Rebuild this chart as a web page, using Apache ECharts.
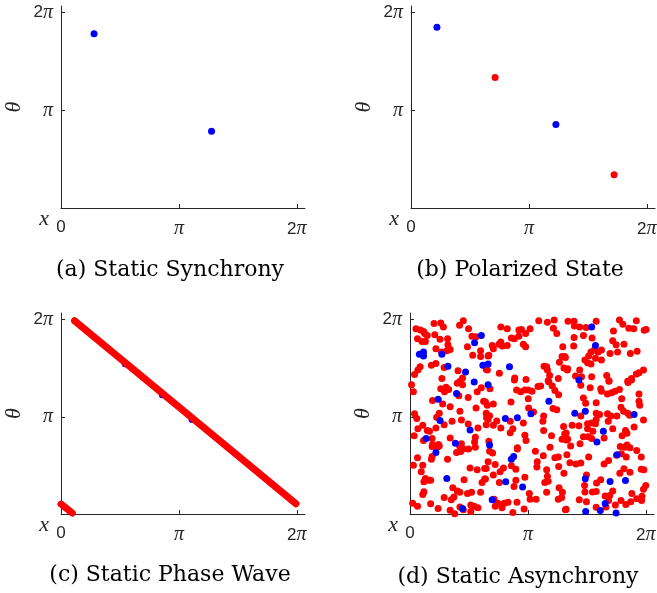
<!DOCTYPE html>
<html>
<head>
<meta charset="utf-8">
<script src="https://cdn.jsdelivr.net/npm/echarts@6/dist/echarts.min.js"></script>
<style>
  html, body { margin: 0; padding: 0; background: #fff; }
  #main { width: 657px; height: 593px; }
</style>
</head>
<body>
<div id="main"></div>
<script>
var PI = Math.PI;
// tick positions and labels (both axes)
var tickValues = [0, PI, 2 * PI];
var tickLabels = ['0', 'π', '2π'];
var captions = ['(a) Static Synchrony', '(b) Polarized State', '(c) Static Phase Wave', '(d) Static Asynchrony'];

// (a) static synchrony
var syncBlue = [[0.88, 5.61], [4.01, 2.47]];

// (b) polarized state
var polarBlue = [[0.69, 5.82], [3.86, 2.69]];
var polarRed = [[2.24, 4.20], [5.41, 1.07]];

// (c) static phase wave, two pieces of the wrapped line
var waveBlue = [[1.71, 4.86], [2.70, 3.86], [3.49, 3.06]];
var waveSeg1 = [[0, 0.32], [0.30, 0.03]];
var waveSeg2 = [[0.36, 6.25], [6.26, 0.33]];

// (d) static asynchrony
var asyncRed = [
  [0.16,5.99],[0.28,5.95],[0.36,5.90],[0.39,5.84],[0.46,5.77],[0.64,6.16],[0.82,6.18],[0.89,6.05],[1.32,6.10],[1.42,6.25],
  [1.56,5.99],[1.65,5.75],[1.76,5.73],[0.20,5.67],[0.32,5.58],[0.41,5.58],[0.66,5.80],[0.80,5.65],[1.00,5.67],[1.01,5.47],
  [0.69,5.34],[0.84,5.24],[0.98,5.28],[1.07,5.32],[1.53,5.41],[1.67,5.13],[1.88,5.28],[1.88,5.09],[2.08,5.11],[0.27,4.76],
  [0.21,4.66],[0.12,4.51],[0.57,4.81],[0.69,4.87],[0.91,4.74],[1.28,4.63],[1.40,4.40],[0.85,4.38],[2.03,4.68],
  [2.42,6.05],[2.59,5.99],[2.90,5.95],[2.97,5.97],[3.20,5.99],[3.08,5.84],[2.90,5.75],[2.70,5.69],[2.78,5.67],[2.42,5.56],
  [2.37,5.49],[2.46,5.43],[2.19,5.45],[2.22,5.34],[2.59,5.45],[3.02,5.49],[3.08,5.41],[2.10,5.13],[3.43,6.25],[3.66,6.20],
  [3.84,6.27],[3.82,6.01],[4.21,6.23],[3.91,5.84],[4.07,5.41],[4.05,5.09],[4.12,5.09],[3.98,4.91],[3.57,4.78],[3.64,4.76],
  [3.66,4.66],[4.10,4.72],[4.19,4.66],[3.72,4.48],[3.68,4.31],[3.95,4.38],[2.06,4.66],[2.38,4.55],[2.79,4.40],[3.09,4.35],
  [4.37,6.23],[4.38,6.08],[4.52,6.05],[4.69,6.03],[4.96,6.23],[5.58,6.27],[5.67,6.14],[6.03,6.25],[5.83,6.01],[5.96,5.99],
  [5.42,5.92],[6.24,5.94],[6.29,5.97],[4.37,5.71],[4.62,5.77],[4.85,5.69],[5.40,5.60],[5.49,5.47],[5.70,5.49],[5.87,5.19],
  [6.05,5.26],[5.33,5.19],[5.53,5.24],[5.10,5.30],[5.01,5.24],[4.91,5.30],[4.82,5.24],[4.76,5.11],[4.94,5.04],[5.10,4.98],
  [4.66,4.98],[4.73,4.89],[4.82,4.85],[4.14,5.06],[4.36,5.43],[4.20,4.70],[4.52,4.66],[4.41,4.46],[4.57,4.44],[4.84,4.44],
  [5.24,4.48],[5.30,4.31],[5.80,4.29],[5.90,4.38],[6.03,4.53],[6.10,4.57],[6.22,4.66],
  [0.04,4.18],[0.09,3.95],[0.82,4.05],[0.96,4.10],[0.92,3.95],[1.03,4.03],[1.26,4.23],[1.40,4.18],[1.33,4.29],[1.30,3.82],
  [1.55,3.77],[1.79,3.95],[1.90,4.08],[1.96,3.65],[2.06,3.52],[0.60,3.67],[0.87,3.56],[1.07,3.47],[1.33,3.32],[1.76,3.43],
  [0.78,3.26],[0.71,3.13],[0.91,2.89],[1.12,3.00],[1.37,3.04],[1.55,2.91],[0.12,3.24],[0.18,3.09],[0.11,2.53],[0.34,2.87],
  [0.46,2.70],[0.21,2.76],[0.52,2.68],[0.36,2.38],[0.59,2.44],[0.69,2.78],[0.60,2.25],[0.76,2.25],[1.07,2.46],[1.37,2.27],
  [1.74,2.48],[1.72,2.33],[1.81,2.78],[2.03,2.89],[2.03,3.26],[2.04,3.11],
  [2.13,4.05],[2.78,4.33],[3.41,4.12],[3.48,4.14],[3.70,4.27],[3.79,4.14],[3.86,3.99],[3.96,3.86],[2.84,4.01],[2.95,3.95],
  [3.06,4.01],[3.15,4.01],[3.25,3.97],[3.15,3.73],[2.69,3.62],[2.22,3.56],[2.01,3.62],[2.12,3.18],[2.08,3.06],[2.31,3.01],
  [2.22,2.87],[2.42,2.78],[2.67,3.00],[2.74,2.76],[2.67,2.63],[3.16,3.43],[3.29,3.30],[3.02,2.94],[3.56,3.17],[3.54,3.00],
  [3.56,2.70],[3.81,3.41],[3.91,3.37],[4.09,2.83],[4.12,2.59],[4.05,2.42],[4.16,2.39],[3.06,2.55],[3.09,2.38],[2.10,2.35],
  [2.86,2.14],[3.77,2.53],
  [4.55,4.16],[4.80,4.08],[5.08,4.05],[5.30,4.29],[5.81,4.25],[5.90,4.33],[5.10,3.97],[5.26,3.88],[5.37,3.92],[5.46,3.97],
  [5.58,4.03],[6.10,3.88],[4.62,3.75],[4.68,3.58],[4.96,3.60],[5.64,3.73],[6.10,3.65],[6.12,3.52],[5.62,3.45],[5.69,3.32],
  [5.80,3.26],[5.85,3.19],[4.55,3.17],[4.96,3.26],[5.05,3.22],[5.26,3.24],[5.35,3.17],[5.51,3.17],[6.22,3.04],[4.96,3.06],
  [4.84,2.94],[4.73,2.92],[4.94,2.92],[5.28,3.00],[4.32,2.87],[4.50,2.85],[4.73,2.76],[4.87,2.68],[5.40,2.76],[5.74,2.70],
  [5.78,2.61],[5.97,2.81],[4.16,2.62],[4.20,2.42],[4.62,2.50],[4.75,2.50],[4.84,2.44],[5.17,2.46],[5.65,2.53],[4.28,2.20],
  [4.53,2.27],[5.60,2.18],[5.78,2.23],
  [0.59,2.18],[0.73,2.16],[0.78,2.20],[1.32,2.20],[1.42,2.10],[1.35,2.02],[1.24,1.99],[1.56,2.10],[1.74,2.16],[0.20,1.82],
  [0.59,1.86],[0.57,1.77],[1.00,1.77],[0.09,1.58],[0.34,1.58],[0.30,1.37],[1.60,1.49],[1.79,1.43],[1.99,1.47],[0.41,1.15],
  [0.48,1.09],[0.37,1.04],[0.55,1.09],[1.44,1.11],[1.99,1.13],[1.92,1.02],[0.37,0.72],[0.34,0.63],[1.14,0.85],[1.26,0.74],
  [1.33,0.70],[1.53,0.66],[1.64,0.70],[1.88,0.70],[1.17,0.55],[0.91,0.53],[1.10,0.46],[0.07,0.35],[0.20,0.25],[0.55,0.33],
  [0.75,0.18],[1.07,0.12],[1.19,0.01],[1.33,0.23],[1.42,0.14],[1.62,0.08],[1.62,0.29],[1.71,0.25],[1.81,0.20],
  [2.12,2.03],[2.20,1.97],[2.86,2.10],[3.34,2.03],[3.73,2.16],[3.55,1.88],[3.39,1.69],[3.38,1.52],[3.86,1.82],[3.95,1.84],
  [4.18,1.92],[2.08,1.69],[2.27,1.60],[2.49,1.49],[2.70,1.56],[2.82,1.45],[2.03,1.47],[2.40,1.37],[2.22,1.26],[3.64,1.43],
  [3.66,1.22],[3.96,1.54],[4.10,1.32],[3.59,1.02],[3.68,1.06],[3.06,1.19],[2.82,1.09],[2.38,1.02],[2.01,1.13],[2.77,0.89],
  [3.97,0.85],[4.06,0.70],[3.64,0.70],[3.18,0.66],[3.20,0.48],[3.36,0.48],[2.24,0.48],[2.34,0.35],[2.44,0.31],[2.51,0.35],
  [2.61,0.38],[2.27,0.25],[2.45,0.20],[2.85,0.38],[3.95,0.48],[4.04,0.53],[4.14,0.14],[3.04,0.16],[2.74,0.05],
  [4.26,1.66],[4.42,1.62],[4.55,1.65],[4.76,1.84],[4.70,1.26],[4.97,1.00],[5.08,1.11],[5.17,1.62],[5.29,1.73],[5.50,1.90],
  [5.63,1.95],[5.72,2.16],[5.86,2.14],[6.04,2.05],[6.16,1.84],[5.76,1.84],[5.59,1.32],[5.70,1.46],[5.86,1.35],[6.16,1.45],
  [6.23,1.43],[4.65,0.92],[4.66,0.71],[4.86,0.71],[4.96,0.73],[5.20,0.58],[5.32,0.60],[5.40,0.74],[5.29,0.44],[5.22,0.23],
  [5.47,0.29],[5.62,0.44],[5.75,0.31],[5.91,0.66],[6.04,0.49],[6.18,0.57],[6.22,0.80],[6.28,0.92],[6.17,0.44],[5.88,0.40],
  [4.16,0.15],[4.51,0.46],[4.70,0.40],[4.96,0.22]
];
var asyncBlue = [
  [1.90,5.77],[1.72,5.54],[0.25,5.17],[0.36,5.24],[0.36,5.11],[0.85,5.17],[1.01,4.78],[1.48,4.59],[1.94,4.81],[2.08,4.85],
  [1.71,4.27],[2.65,4.76],[4.84,6.05],[4.94,5.45],[4.50,4.33],[0.75,3.71],[1.24,3.90],[0.80,3.02],[1.60,2.72],[0.43,2.44],
  [1.21,2.29],[2.08,4.18],[3.70,3.65],[2.54,3.09],[2.86,3.11],[3.22,3.24],[2.12,2.23],[4.39,3.26],[4.67,3.32],[5.97,3.22],
  [5.15,2.68],[4.98,2.33],[0.69,1.99],[0.98,1.15],[1.40,0.18],[2.70,1.77],[2.76,1.86],[2.55,1.04],[3.00,0.87],[2.19,0.46],
  [5.52,1.92],[5.74,1.08],[5.33,1.05],[4.67,1.14],[4.68,0.08],[5.07,0.11],[5.20,0.34],[5.49,0.03]
];

(function () {
  var myChart = echarts.init(document.getElementById('main'));
  var axisColor = '#262626';
  var RED = '#ff0000', BLUE = '#0000ff';

  var boxes = [
    { left: 61, top: 6, width: 244, height: 202 },
    { left: 411, top: 6, width: 244, height: 202 },
    { left: 61, top: 313, width: 244, height: 201 },
    { left: 410, top: 313, width: 244, height: 201 }
  ];
  var captionPos = [[170, 270], [520, 270], [170, 575], [518, 577]];

  function fmt(v) {
    var k = 0;
    for (var i = 1; i < tickValues.length; i++) {
      if (Math.abs(tickValues[i] - v) < Math.abs(tickValues[k] - v)) k = i;
    }
    return tickLabels[k].replace(/(\d+)/, '{n|$1}').replace('π', '{p|π}');
  }
  var rich = {
    n: { fontFamily: 'Liberation Sans', fontSize: 17, color: axisColor },
    p: { fontFamily: 'Liberation Serif', fontStyle: 'italic', fontSize: 20, color: axisColor }
  };
  var nameStyle = { fontFamily: 'Liberation Serif', fontStyle: 'italic', fontSize: 22, color: axisColor };

  var grid = [], xAxis = [], yAxis = [], graphic = [];
  boxes.forEach(function (b, i) {
    grid.push({ left: b.left, top: b.top, width: b.width, height: b.height, outerBoundsMode: 'none' });
    xAxis.push({
      gridIndex: i, type: 'value', min: 0, max: 6.5,
      name: 'x', nameLocation: 'start', nameGap: 12,
      nameTextStyle: Object.assign({ verticalAlign: 'top', lineHeight: 22 }, nameStyle),
      axisLine: { show: true, onZero: false, lineStyle: { color: axisColor, width: 1 } },
      axisTick: { show: true, inside: true, length: 4, customValues: tickValues, lineStyle: { color: axisColor } },
      axisLabel: { customValues: tickValues, formatter: fmt, rich: rich, margin: 11 },
      splitLine: { show: false }
    });
    yAxis.push({
      gridIndex: i, type: 'value', min: 0, max: 6.5,
      name: 'θ', nameLocation: 'middle', nameGap: 36, nameRotate: 90,
      nameTextStyle: nameStyle,
      axisLine: { show: true, onZero: false, lineStyle: { color: axisColor, width: 1 } },
      axisTick: { show: true, inside: true, length: 4, customValues: tickValues, lineStyle: { color: axisColor } },
      axisLabel: { customValues: [PI, 2 * PI], formatter: fmt, rich: rich, margin: 8 },
      splitLine: { show: false }
    });
    graphic.push({
      type: 'text', x: captionPos[i][0], y: captionPos[i][1],
      style: {
        text: captions[i], align: 'center', verticalAlign: 'middle',
        fontFamily: 'DejaVu Serif', fontSize: 22, fill: '#000'
      }
    });
  });

  function dots(i, data, color, z) {
    return {
      type: 'scatter', xAxisIndex: i, yAxisIndex: i, data: data, z: z || 2,
      symbolSize: 7, itemStyle: { color: color, opacity: 1 }, clip: false, silent: true
    };
  }
  function seg(data) {
    return {
      type: 'line', xAxisIndex: 2, yAxisIndex: 2, data: data, symbol: 'none', z: 3,
      lineStyle: { color: RED, width: 7, cap: 'round', opacity: 1 }, clip: false, silent: true
    };
  }

  var option = {
    animation: false,
    backgroundColor: '#fff',
    grid: grid,
    xAxis: xAxis,
    yAxis: yAxis,
    graphic: graphic,
    series: [
      dots(0, syncBlue, BLUE),
      dots(1, polarBlue, BLUE),
      dots(1, polarRed, RED),
      dots(2, waveBlue, BLUE, 1),
      seg(waveSeg1),
      seg(waveSeg2),
      dots(3, asyncRed, RED),
      dots(3, asyncBlue, BLUE)
    ]
  };

  myChart.setOption(option);
  window.addEventListener('resize', function () {
    myChart.resize();
  });
})();
</script>
</body>
</html>
